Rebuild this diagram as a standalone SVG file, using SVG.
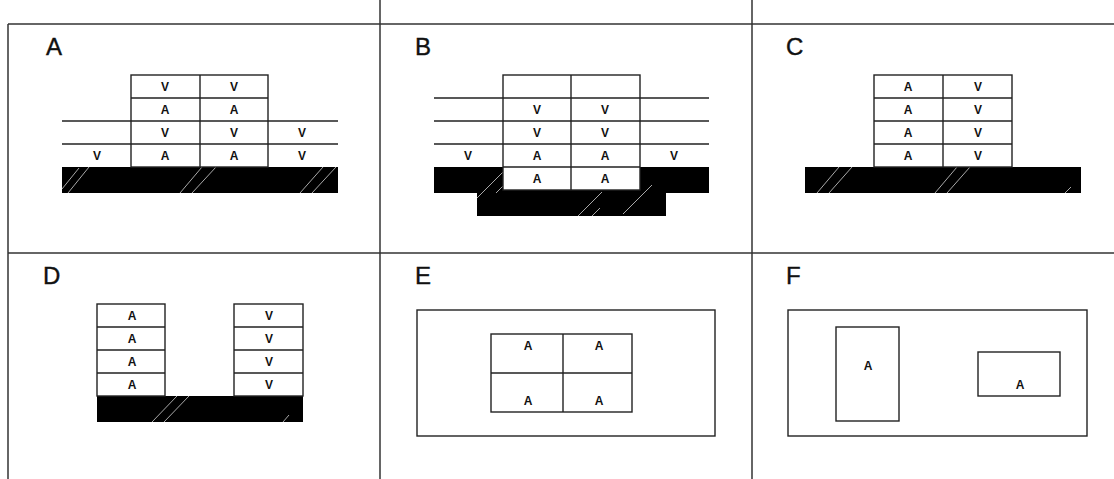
<svg xmlns="http://www.w3.org/2000/svg" width="1114" height="479" viewBox="0 0 1114 479">
<style>
.frame{stroke:#333;stroke-width:1.5;fill:none}
.box{stroke:#222;stroke-width:1.4;fill:#fff}
.ln{stroke:#222;stroke-width:1.4;fill:none}
.gnd{fill:#000}
.hatch{stroke:#bbb;stroke-width:0.9;fill:none}
.title{font-family:"Liberation Sans",Arial,sans-serif;font-size:24px;fill:#111;stroke:#111;stroke-width:0.4}
.cell{font-family:"Liberation Sans",Arial,sans-serif;font-size:12px;font-weight:bold;fill:#111;text-anchor:middle}
</style>
<rect width="1114" height="479" fill="#fff"/>
<g id="frame">
<line class="frame" x1="8" y1="24" x2="1114" y2="24"/>
<line class="frame" x1="8" y1="253" x2="1114" y2="253"/>
<line class="frame" x1="8" y1="24" x2="8" y2="479"/>
<line class="frame" x1="380" y1="0" x2="380" y2="479"/>
<line class="frame" x1="752" y1="0" x2="752" y2="479"/>
</g>
<g id="panelA">
<text class="title" x="46" y="55">A</text>
<rect class="gnd" x="62" y="167" width="276" height="26"/>
<path class="hatch" d="M62 189L79 168M68 193L89 167M180 193L202 167M192 193L216 167M300 193L323 167M312 193L336 167"/>
<line class="ln" x1="62" y1="121" x2="338" y2="121"/>
<line class="ln" x1="62" y1="144" x2="338" y2="144"/>
<rect class="box" x="131" y="75" width="137" height="92"/>
<path class="ln" d="M200 75V167M131 98H268M131 121H268M131 144H268"/>
<text class="cell" x="165" y="91">V</text><text class="cell" x="234" y="91">V</text>
<text class="cell" x="165" y="114">A</text><text class="cell" x="234" y="114">A</text>
<text class="cell" x="165" y="137">V</text><text class="cell" x="234" y="137">V</text><text class="cell" x="302" y="137">V</text>
<text class="cell" x="97" y="160">V</text><text class="cell" x="165" y="160">A</text><text class="cell" x="234" y="160">A</text><text class="cell" x="302" y="160">V</text>
</g>
<g id="panelB">
<text class="title" x="415" y="55">B</text>
<path class="gnd" d="M434 167H503V190H640V167H709V193H666V216H477V193H434Z"/>
<path class="hatch" d="M477 198L503 172M496 193L503 186M578 216L602 192M592 216L600 208M623 214L652 185"/>
<path class="ln" d="M434 98H709M434 121H709M434 144H709"/>
<rect class="box" x="503" y="75" width="137" height="115"/>
<path class="ln" d="M571 75V190M503 98H640M503 121H640M503 144H640M503 167H640"/>
<text class="cell" x="537" y="114">V</text><text class="cell" x="605" y="114">V</text>
<text class="cell" x="537" y="137">V</text><text class="cell" x="605" y="137">V</text>
<text class="cell" x="468" y="160">V</text><text class="cell" x="537" y="160">A</text><text class="cell" x="605" y="160">A</text><text class="cell" x="674" y="160">V</text>
<text class="cell" x="537" y="183">A</text><text class="cell" x="605" y="183">A</text>
</g>
<g id="panelC">
<text class="title" x="786" y="55">C</text>
<rect class="gnd" x="805" y="167" width="276" height="26"/>
<path class="hatch" d="M817 193L839 167M829 193L852 167M935 193L957 167M947 193L970 167M1065 193L1071 187"/>
<rect class="box" x="874" y="75" width="138" height="92"/>
<path class="ln" d="M943 75V167M874 98H1012M874 121H1012M874 144H1012"/>
<text class="cell" x="908" y="91">A</text><text class="cell" x="978" y="91">V</text>
<text class="cell" x="908" y="114">A</text><text class="cell" x="978" y="114">V</text>
<text class="cell" x="908" y="137">A</text><text class="cell" x="978" y="137">V</text>
<text class="cell" x="908" y="160">A</text><text class="cell" x="978" y="160">V</text>
</g>
<g id="panelD">
<text class="title" x="43" y="284">D</text>
<rect class="gnd" x="97" y="396" width="206" height="26"/>
<path class="hatch" d="M152 422L177 396M164 422L189 396M283 422L289 415"/>
<rect class="box" x="97" y="304" width="68" height="92"/>
<path class="ln" d="M97 327H165M97 350H165M97 373H165"/>
<rect class="box" x="234" y="304" width="69" height="92"/>
<path class="ln" d="M234 327H303M234 350H303M234 373H303"/>
<text class="cell" x="132" y="320">A</text><text class="cell" x="269" y="320">V</text>
<text class="cell" x="132" y="343">A</text><text class="cell" x="269" y="343">V</text>
<text class="cell" x="132" y="366">A</text><text class="cell" x="269" y="366">V</text>
<text class="cell" x="132" y="389">A</text><text class="cell" x="269" y="389">V</text>
</g>
<g id="panelE">
<text class="title" x="415" y="284">E</text>
<rect class="box" x="417" y="310" width="298" height="126"/>
<rect class="box" x="491" y="334" width="141" height="78"/>
<path class="ln" d="M563 334V412M491 373H632"/>
<text class="cell" x="528" y="350">A</text><text class="cell" x="599" y="350">A</text>
<text class="cell" x="528" y="405">A</text><text class="cell" x="599" y="405">A</text>
</g>
<g id="panelF">
<text class="title" x="786" y="284">F</text>
<rect class="box" x="788" y="310" width="299" height="126"/>
<rect class="box" x="836" y="327" width="63" height="94"/>
<text class="cell" x="868" y="370">A</text>
<rect class="box" x="978" y="352" width="82" height="44"/>
<text class="cell" x="1020" y="389">A</text>
</g>
</svg>
